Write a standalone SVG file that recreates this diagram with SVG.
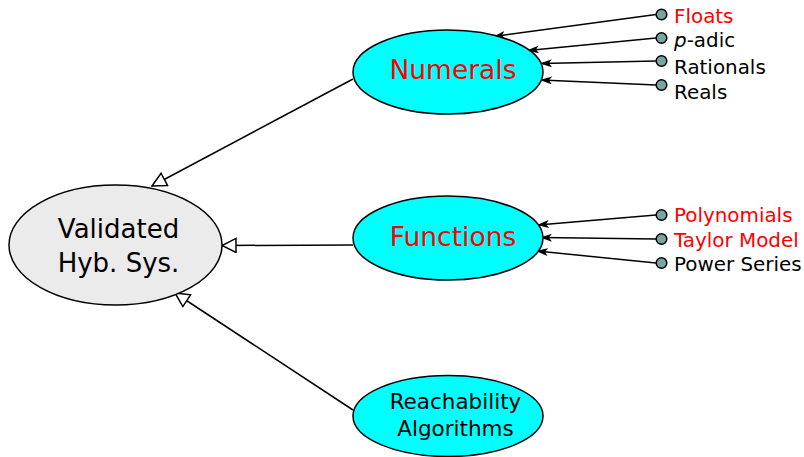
<svg xmlns="http://www.w3.org/2000/svg" width="804" height="457" viewBox="0 0 804 457">
  <defs>
    <style>
      text { font-family: "DejaVu Sans", "Liberation Sans", sans-serif; }
      .cyan { fill: #00ffff; stroke: #000; stroke-width: 1.5; }
      .grey { fill: #ebebeb; stroke: #000; stroke-width: 1.5; }
      .dot { fill: #76a5a2; stroke: #000; stroke-width: 1.5; }
      .edge { stroke: #000; stroke-width: 1.5; fill: none; }
      .gen { marker-end: url(#hollow); }
      .dep { marker-end: url(#solid); }
      .lbl { font-size: 19.9px; }
      .red { fill: #ff0000; }
      .blk { fill: #000; }
    </style>
    <marker id="hollow" viewBox="0 0 16 16" refX="15" refY="8" markerWidth="16" markerHeight="16" markerUnits="userSpaceOnUse" orient="auto">
      <path d="M1,1 L15,8 L1,15 Z" fill="#fff" stroke="#000" stroke-width="1.5"/>
    </marker>
    <marker id="solid" viewBox="0 0 12 8" refX="11" refY="4" markerWidth="12" markerHeight="8" markerUnits="userSpaceOnUse" orient="auto">
      <path d="M0,0 L12,4 L0,8 L3,4 Z" fill="#000"/>
    </marker>
  </defs>

  <g id="connectors">
    <line class="edge gen" x1="353" y1="79" x2="152" y2="186"/>
    <line class="edge gen" x1="353" y1="245" x2="222" y2="245.5"/>
    <line class="edge gen" x1="353" y1="410" x2="175" y2="293"/>
    <line class="edge dep" x1="656" y1="14.5" x2="494" y2="36.5"/>
    <line class="edge dep" x1="656" y1="38" x2="528" y2="50.5"/>
    <line class="edge dep" x1="656" y1="61" x2="541" y2="63.5"/>
    <line class="edge dep" x1="656" y1="85" x2="541" y2="80"/>
    <line class="edge dep" x1="656" y1="215" x2="538" y2="225"/>
    <line class="edge dep" x1="656" y1="239" x2="541" y2="237.5"/>
    <line class="edge dep" x1="656" y1="263" x2="537" y2="251"/>
  </g>

  <g id="validated">
    <ellipse class="grey" cx="115.5" cy="245" rx="106.5" ry="60"/>
    <text x="118.5" y="238" font-size="26" text-anchor="middle">Validated</text>
    <text x="118.5" y="272" font-size="26" text-anchor="middle">Hyb. Sys.</text>
  </g>

  <g id="numerals">
    <ellipse class="cyan" cx="448" cy="72" rx="95" ry="42"/>
    <text x="453" y="79" font-size="26.5" text-anchor="middle" fill="#ff0000">Numerals</text>
  </g>

  <g id="functions">
    <ellipse class="cyan" cx="448" cy="238" rx="95" ry="42"/>
    <text x="453" y="246" font-size="26.5" text-anchor="middle" fill="#ff0000">Functions</text>
  </g>

  <g id="reachability">
    <ellipse class="cyan" cx="448" cy="416" rx="95" ry="40.5"/>
    <text x="455.5" y="409" font-size="21.5" text-anchor="middle">Reachability</text>
    <text x="455.5" y="436" font-size="21.5" text-anchor="middle">Algorithms</text>
  </g>

  <g id="floats">
    <circle class="dot" cx="661.5" cy="14.5" r="5.3"/>
    <text class="lbl red" x="674" y="23">Floats</text>
  </g>
  <g id="padic">
    <circle class="dot" cx="661.5" cy="38" r="5.3"/>
    <text class="lbl blk" x="674" y="47"><tspan font-style="italic">p</tspan>-adic</text>
  </g>
  <g id="rationals">
    <circle class="dot" cx="661.5" cy="61" r="5.3"/>
    <text class="lbl blk" x="674" y="74">Rationals</text>
  </g>
  <g id="reals">
    <circle class="dot" cx="661.5" cy="85" r="5.3"/>
    <text class="lbl blk" x="674" y="99">Reals</text>
  </g>
  <g id="polynomials">
    <circle class="dot" cx="661.5" cy="215" r="5.3"/>
    <text class="lbl red" x="674" y="222">Polynomials</text>
  </g>
  <g id="taylor">
    <circle class="dot" cx="661.5" cy="239" r="5.3"/>
    <text class="lbl red" x="674" y="247">Taylor Model</text>
  </g>
  <g id="power">
    <circle class="dot" cx="661.5" cy="263" r="5.3"/>
    <text class="lbl blk" x="674" y="271">Power Series</text>
  </g>
</svg>
